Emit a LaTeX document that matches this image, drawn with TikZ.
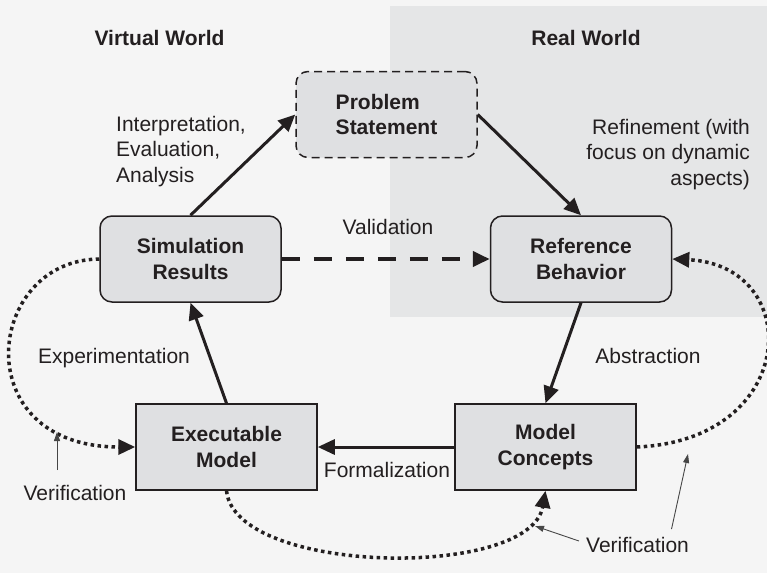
\documentclass[tikz,border=0pt]{standalone}
\usepackage{fontspec}
\setmainfont{Liberation Sans}
\usetikzlibrary{arrows.meta}

\definecolor{bgcol}{RGB}{245,245,245}
\definecolor{realcol}{RGB}{229,230,231}
\definecolor{boxcol}{RGB}{223,224,226}
\definecolor{inkcol}{RGB}{35,31,32}
\definecolor{thincol}{RGB}{70,70,70}

\tikzset{
  stepbox/.style={draw=inkcol, line width=1.5pt, fill=boxcol, minimum width=181pt,
    minimum height=86pt, inner sep=0pt, align=center, text=inkcol,
    font=\fontsize{21}{25.5}\selectfont\bfseries},
  roundbox/.style={stepbox, rounded corners=12pt},
  lbl/.style={inner sep=0pt, text=inkcol, font=\fontsize{21}{25.5}\selectfont},
  flow/.style={draw=inkcol, line width=3pt, -{Triangle[length=17pt,width=15pt]}},
  dotflow/.style={draw=inkcol, line width=3.5pt, dash pattern=on 3.5pt off 3.5pt,
    -{Triangle[length=17pt,width=15pt]}},
  pointer/.style={draw=thincol, line width=0.9pt, -{Triangle[length=9pt,width=6pt]}}
}

\begin{document}
\begin{tikzpicture}[x=1pt,y=-1pt]

  % Background and real world area
  \useasboundingbox (0,0) rectangle (767,573);
  \fill[bgcol] (0,0) rectangle (767,573);
  \fill[realcol] (390,6) rectangle (767,316.7);

  % World titles
  \node[lbl, font=\fontsize{21}{25.5}\selectfont\bfseries] (virtual) at (159.5,38) {Virtual World};
  \node[lbl, font=\fontsize{21}{25.5}\selectfont\bfseries] (real) at (586,38) {Real World};

  % Boxes
  \node[roundbox, dashed, dash pattern=on 8pt off 5pt, align=left] (prob) at (386.5,114.5) {Problem\\Statement};
  \node[roundbox] (sim) at (190.5,259) {Simulation\\Results};
  \node[roundbox] (ref) at (581,259) {Reference\\Behavior};
  \node[stepbox] (exec) at (226.5,447) {Executable\\Model};
  \node[stepbox] (concepts) at (545.5,447) {Model\\Concepts};

  % Main cycle
  \draw[flow] (sim.north) -- (prob.west);
  \draw[flow] (prob.east) -- (ref.north);
  \draw[flow, line width=4pt, dash pattern=on 18pt off 14pt] (sim.east) -- (ref.west);
  \draw[flow] (ref.south) -- (concepts.north);
  \draw[flow] (concepts.west) -- (exec.east);
  \draw[flow] (exec.north) -- (sim.south);

  % Verification loops
  \draw[dotflow] (sim.west) .. controls (-15,260) and (-35,447) .. (exec.west);
  \draw[dotflow] (exec.south) .. controls (235,575) and (530,580) .. (concepts.south);
  \draw[dotflow] (concepts.east) .. controls (800,440) and (805,265) .. (ref.east);

  % Labels
  \node[lbl, anchor=west, align=left] (interp) at (116,151.5) {Interpretation,\\Evaluation,\\Analysis};
  \node[lbl, anchor=east, align=right] (refine) at (750,154.5) {Refinement (with\\focus on dynamic\\aspects)};
  \node[lbl] (valid) at (388,227) {Validation};
  \node[lbl] (abstr) at (648,356) {Abstraction};
  \node[lbl] (exper) at (114,358) {Experimentation};
  \node[lbl] (formal) at (387,470) {Formalization};
  \node[lbl] (verifL) at (75,493) {Verification};
  \node[lbl] (verifR) at (637.5,545) {Verification};

  % Pointers to the loops
  \coordinate (pL) at (57,432);
  \coordinate (pR1) at (535,526);
  \coordinate (pR2) at (688,454);
  \draw[pointer] (verifL.north -| pL) ++(0,-15) -- (pL);
  \draw[pointer] (verifR.west) ++(-7,-4) -- (pR1);
  \draw[pointer] (verifR.north) ++(34,-8) -- (pR2);

\end{tikzpicture}
\end{document}
